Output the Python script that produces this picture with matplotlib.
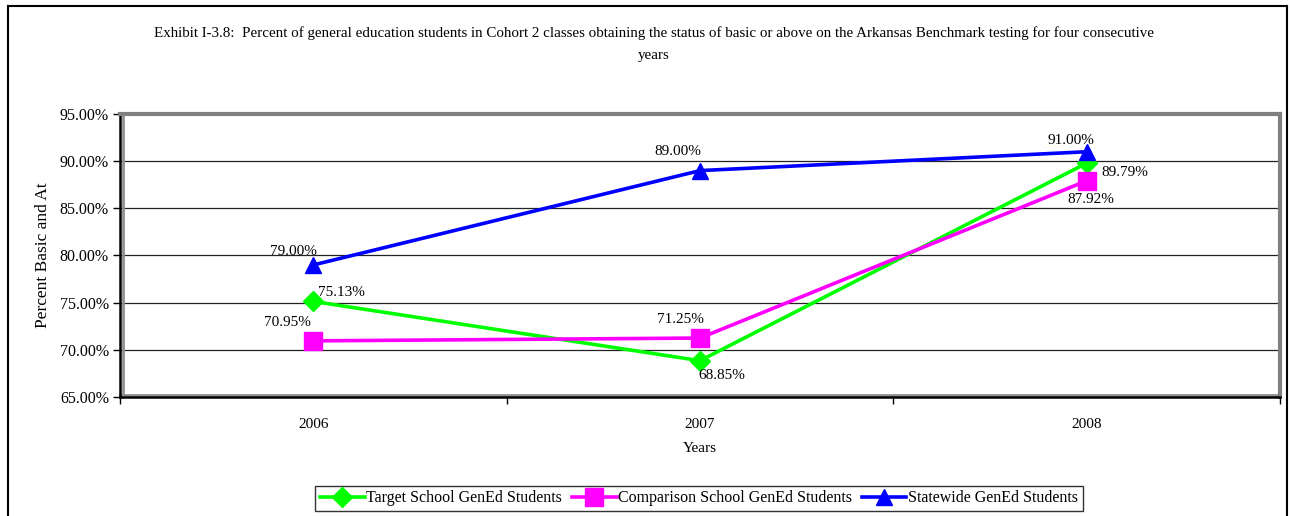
import matplotlib
matplotlib.use("Agg")
import matplotlib.pyplot as plt
from matplotlib.lines import Line2D
from matplotlib.ticker import FuncFormatter
import matplotlib.transforms as mtransforms

years = ["2006", "2007", "2008"]
target = [75.13, 68.85, 89.79]
comparison = [70.95, 71.25, 87.92]
statewide = [79.00, 89.00, 91.00]
series_names = ["Target School GenEd Students", "Comparison School GenEd Students", "Statewide GenEd Students"]
y_ticks = [65, 70, 75, 80, 85, 90, 95]

plt.rcParams['font.family'] = ['Liberation Serif', 'DejaVu Serif']

W, H = 1290, 516
fig = plt.figure(figsize=(W/100, H/100), dpi=100)

def fx(px):
    return px / W

def fy(py):
    return 1 - py / H

# outer border
fig.add_artist(Line2D([fx(8), fx(8)], [fy(6), -0.1], color='black', lw=1.5, transform=fig.transFigure))
fig.add_artist(Line2D([fx(8), fx(1287)], [fy(6), fy(6)], color='black', lw=1.5, transform=fig.transFigure))
fig.add_artist(Line2D([fx(1287), fx(1287)], [fy(6), -0.1], color='black', lw=1.5, transform=fig.transFigure))

ax = fig.add_axes([fx(120), fy(397), fx(1280) - fx(120), fy(114) - fy(397)])
x = list(range(len(years)))

colors = ['#00FF00', '#FF00FF', '#0000FF']
markers = ['D', 's', '^']
msizes = [10, 13, 12]
data = [target, comparison, statewide]
for vals, c, m, ms, name in zip(data, colors, markers, msizes, series_names):
    ax.plot(x, vals, color=c, marker=m, markersize=ms, lw=2.6, label=name, zorder=3, clip_on=False)

ax.set_xlim(-0.5, 2.5)
ax.set_ylim(65, 95)
ax.set_yticks(y_ticks)
ax.yaxis.set_major_formatter(FuncFormatter(lambda v, p: f"{v:.2f}%"))
ax.set_xticks(x)
ax.set_xticklabels(years)
ax.set_xticks([-0.5, 0.5, 1.5, 2.5], minor=True)
ax.tick_params(axis='x', which='major', length=0, pad=15, labelsize=11)
ax.tick_params(axis='x', which='minor', length=5, width=1, direction='out')
ax.tick_params(axis='y', length=5, width=1, direction='out', labelsize=11.5, pad=3)

for g in [70, 75, 80, 85, 90]:
    ax.axhline(g, color='#222222', lw=0.9, zorder=1)

for s in ['top', 'right']:
    ax.spines[s].set_color('#808080')
    ax.spines[s].set_linewidth(3)
for s in ['left', 'bottom']:
    ax.spines[s].set_color('black')
    ax.spines[s].set_linewidth(1.8)
# gray plot-area shadow just inside the left and bottom axis lines
sh_x = ax.transAxes + mtransforms.ScaledTranslation(2.5/100, 0, fig.dpi_scale_trans)
sh_y = ax.transAxes + mtransforms.ScaledTranslation(0, 2.5/100, fig.dpi_scale_trans)
ax.add_artist(Line2D([0, 0], [0, 1], color='#909090', lw=2, transform=sh_x, zorder=2, clip_on=False))
ax.add_artist(Line2D([0, 1], [0, 0], color='#909090', lw=2, transform=sh_y, zorder=2, clip_on=False))

ax.set_xlabel("Years", fontsize=11, labelpad=8)
ax.set_ylabel("Percent Basic and At", fontsize=12.5, labelpad=6)

# data labels (offsets in pixels)
offsets = {
    0: [(5, 9, 'left'), (-2, -15, 'left'), (15, -9, 'left')],
    1: [(-2, 18, 'right'), (4, 19, 'right'), (-19, -19, 'left')],
    2: [(4, 13, 'right'), (1, 19, 'right'), (-39, 11, 'left')],
}
for si, vals in enumerate(data):
    for i, v in enumerate(vals):
        dx, dy, ha = offsets[si][i]
        ax.annotate(f"{v:.2f}%", (i, v), xytext=(dx, dy), textcoords='offset pixels',
                    ha=ha, va='center', fontsize=11, zorder=5)

fig.text(fx(654), fy(33), "Exhibit I-3.8:  Percent of general education students in Cohort 2 classes obtaining the status of basic or above on the Arkansas Benchmark testing for four consecutive",
         ha='center', va='center', fontsize=10.8)
fig.text(fx(654), fy(56), "years", ha='center', va='center', fontsize=10.8)

leg = fig.legend(loc='center', bbox_to_anchor=(fx(699), fy(498.5)), ncol=3, fontsize=11.5,
                 frameon=True, fancybox=False, edgecolor='black', handlelength=2.8,
                 handletextpad=0.1, columnspacing=0.6, borderpad=0.3)
leg.get_frame().set_linewidth(1.0)

fig.savefig("out.png", dpi=100)
